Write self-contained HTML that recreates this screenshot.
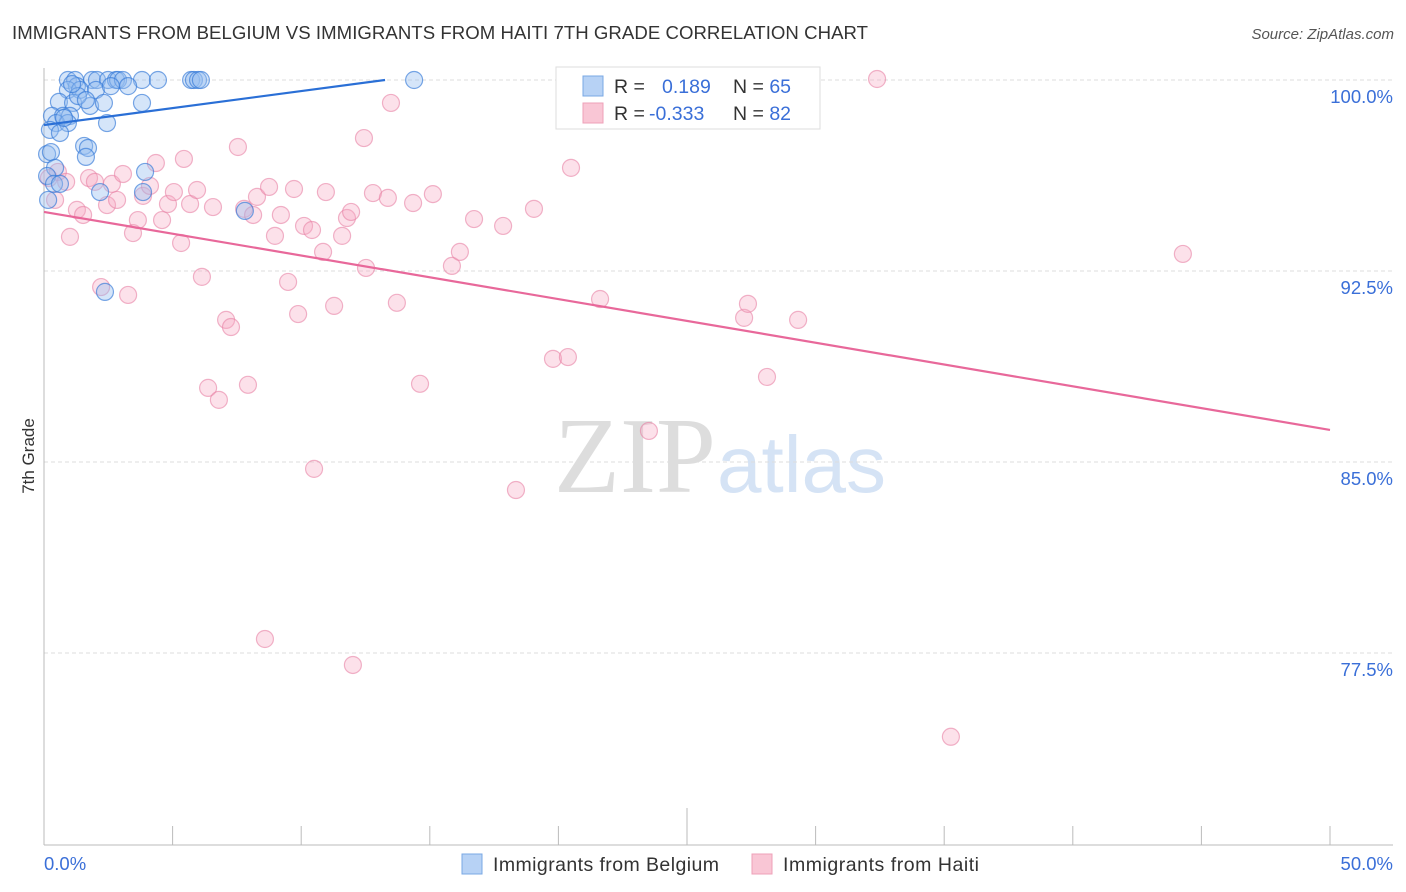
<!DOCTYPE html>
<html><head><meta charset="utf-8">
<style>
body{margin:0;background:#fff;width:1406px;height:892px;overflow:hidden;font-family:"Liberation Sans",sans-serif}
svg{position:absolute;left:0;top:0}
</style></head><body>
<svg id="chart" width="1406" height="892">
<text x="12" y="39" font-size="18.6" fill="#333" textLength="856">IMMIGRANTS FROM BELGIUM VS IMMIGRANTS FROM HAITI 7TH GRADE CORRELATION CHART</text>
<text x="1394" y="39" font-size="15" fill="#555" font-style="italic" text-anchor="end">Source: ZipAtlas.com</text>
<text x="34" y="456" font-size="17" fill="#333" text-anchor="middle" transform="rotate(-90 34 456)">7th Grade</text>
<text x="716" y="492" font-size="108" fill="#ddd" text-anchor="end" font-family="Liberation Serif,serif">ZIP</text>
<text x="717" y="492" font-size="80" fill="#d5e3f5">atlas</text>
<g id="grid"></g><g id="axes"></g><g id="pts"></g><g id="trends"></g>
<g>
<rect x="556" y="67" width="264" height="62" fill="#fff" stroke="#ddd"/>
<rect x="583" y="76" width="20" height="20" fill="#b7d2f5" stroke="#7aa8e4"/>
<rect x="583" y="103" width="20" height="20" fill="#f9c6d5" stroke="#eea0b8"/>
<text x="614" y="93" font-size="19.5" fill="#333">R = <tspan fill="#3a6fd8" x="662">0.189</tspan><tspan fill="#333" x="733">N = </tspan><tspan fill="#3a6fd8">65</tspan></text>
<text x="614" y="120" font-size="19.5" fill="#333">R = <tspan fill="#3a6fd8" x="649">-0.333</tspan><tspan fill="#333" x="733">N = </tspan><tspan fill="#3a6fd8">82</tspan></text>
</g>
<g>
<rect x="462" y="854" width="20" height="20" fill="#b7d2f5" stroke="#7aa8e4"/>
<text x="493" y="871" font-size="19.5" fill="#333" textLength="226">Immigrants from Belgium</text>
<rect x="752" y="854" width="20" height="20" fill="#f9c6d5" stroke="#eea0b8"/>
<text x="783" y="871" font-size="19.5" fill="#333" textLength="196">Immigrants from Haiti</text>
</g>
</svg>
<script>
const yTicks=[100,92.5,85,77.5];
const yTickLabels=["100.0%","92.5%","85.0%","77.5%"];
const xTicks=[0,5,10,15,20,25,30,35,40,45,50];
const xEndLabels=["0.0%","50.0%"];
const belgiumX=[0.93,1.21,1.87,2.06,2.49,2.80,2.88,3.07,3.81,4.43,5.72,5.83,5.99,6.10,14.39,1.28,0.93,1.40,2.02,3.27,2.60,0.58,1.13,1.79,2.33,3.81,1.32,0.31,0.74,1.01,0.47,0.93,0.23,2.45,0.62,0.12,0.27,1.56,1.71,1.63,0.43,0.12,0.39,0.62,3.93,2.18,3.85,7.81,2.37,0.16,1.09,1.63,0.78];
const belgiumY=[100,100,100,100,100,100,100,100,100,100,100,100,100,100,100,99.76,99.61,99.61,99.61,99.76,99.76,99.14,99.10,98.98,99.10,99.10,99.37,98.59,98.59,98.59,98.31,98.31,98.04,98.31,97.92,97.09,97.17,97.41,97.33,96.98,96.55,96.23,95.92,95.92,96.39,95.60,95.60,94.86,91.68,95.29,99.84,99.21,98.51];
const haitiX=[0.19,0.54,0.86,0.43,1.01,1.28,1.52,1.75,1.98,2.22,2.45,2.64,2.84,3.07,3.27,3.46,3.65,3.85,4.12,4.35,4.59,4.82,5.05,5.33,5.44,5.68,5.95,6.14,6.57,7.08,7.27,6.38,6.80,7.54,7.78,7.93,8.13,8.28,8.59,8.75,8.98,9.21,9.49,9.72,9.88,10.11,10.42,10.50,10.85,10.96,11.28,11.59,11.78,11.94,12.01,12.44,12.52,12.79,13.37,13.49,13.72,14.35,14.62,15.12,15.86,16.17,16.72,17.85,18.35,19.05,19.79,20.37,20.49,21.62,23.52,27.22,27.37,28.11,29.32,32.39,35.26,44.28];
const haitiY=[96.15,96.39,96.00,95.29,93.84,94.90,94.70,96.15,96.00,91.87,95.09,95.92,95.29,96.31,91.56,93.99,94.50,95.45,95.84,96.74,94.50,95.13,95.60,93.60,96.90,95.13,95.68,92.27,95.01,90.58,90.30,87.91,87.44,97.37,94.94,88.03,94.70,95.41,78.05,95.80,93.88,94.70,92.07,95.72,90.81,94.27,94.11,84.73,93.25,95.60,91.13,93.88,94.58,94.82,77.03,97.72,92.62,95.56,95.37,99.10,91.25,95.17,88.07,95.52,92.70,93.25,94.54,94.27,83.90,94.94,89.05,89.12,96.55,91.40,86.22,90.66,91.21,88.34,90.58,100.04,74.21,93.17];
const belgiumTrend=[[0,98.23],[13.26,100]];
const haitiTrend=[[0,94.82],[50,86.26]];
const NS="http://www.w3.org/2000/svg";
const sx=v=>44+v*(1286/50);
const sy=v=>80+(100-v)*(191/7.5);
function mk(tag,attrs,parent){const e=document.createElementNS(NS,tag);for(const k in attrs)e.setAttribute(k,attrs[k]);document.getElementById(parent).appendChild(e);return e;}
yTicks.forEach((t,i)=>{
 const l=mk('line',{x1:44,x2:1393,y1:sy(t),y2:sy(t),stroke:'#ddd','stroke-dasharray':'4,3'},'grid');
 
 
 const tx=mk('text',{x:1393,y:sy(t)+23,'font-size':18.5,fill:'#3a6fd8','text-anchor':'end'},'grid');
 tx.textContent=yTickLabels[i];
 
 
});
const ax=mk('line',{x1:44,x2:1393,y1:845,y2:845,stroke:'#bbb'},'axes');


const ay=mk('line',{x1:44,x2:44,y1:68,y2:845,stroke:'#bbb'},'axes');


xTicks.forEach((t,i)=>{
 const tk=mk('line',{x1:sx(t),x2:sx(t),y1:(i==5?808:826),y2:845,stroke:'#bbb'},'axes');
 
 
});
[[0,'start'],[50,'end']].forEach((p,i)=>{
 const t=mk('text',{x:i?1393:44,y:870,'font-size':18.5,fill:'#3a6fd8','text-anchor':p[1]},'axes');
 t.textContent=xEndLabels[i];
 
 
});
haitiX.forEach((x,i)=>{
 const c=mk('circle',{cx:sx(x),cy:sy(haitiY[i]),r:8.5,fill:'rgba(246,170,195,0.35)',stroke:'rgba(232,130,165,0.6)','stroke-width':1.2},'pts');
 
 
});
belgiumX.forEach((x,i)=>{
 const c=mk('circle',{cx:sx(x),cy:sy(belgiumY[i]),r:8.5,fill:'rgba(150,190,240,0.4)',stroke:'rgba(50,120,215,0.65)','stroke-width':1.2},'pts');
 
 
});
const bt=mk('line',{x1:sx(belgiumTrend[0][0]),y1:sy(belgiumTrend[0][1]),x2:sx(belgiumTrend[1][0]),y2:sy(belgiumTrend[1][1]),stroke:'#2a6fd6','stroke-width':2.2},'trends');


const ht=mk('line',{x1:sx(haitiTrend[0][0]),y1:sy(haitiTrend[0][1]),x2:sx(haitiTrend[1][0]),y2:sy(haitiTrend[1][1]),stroke:'#e8689a','stroke-width':2.2},'trends');


</script>
</body></html>
